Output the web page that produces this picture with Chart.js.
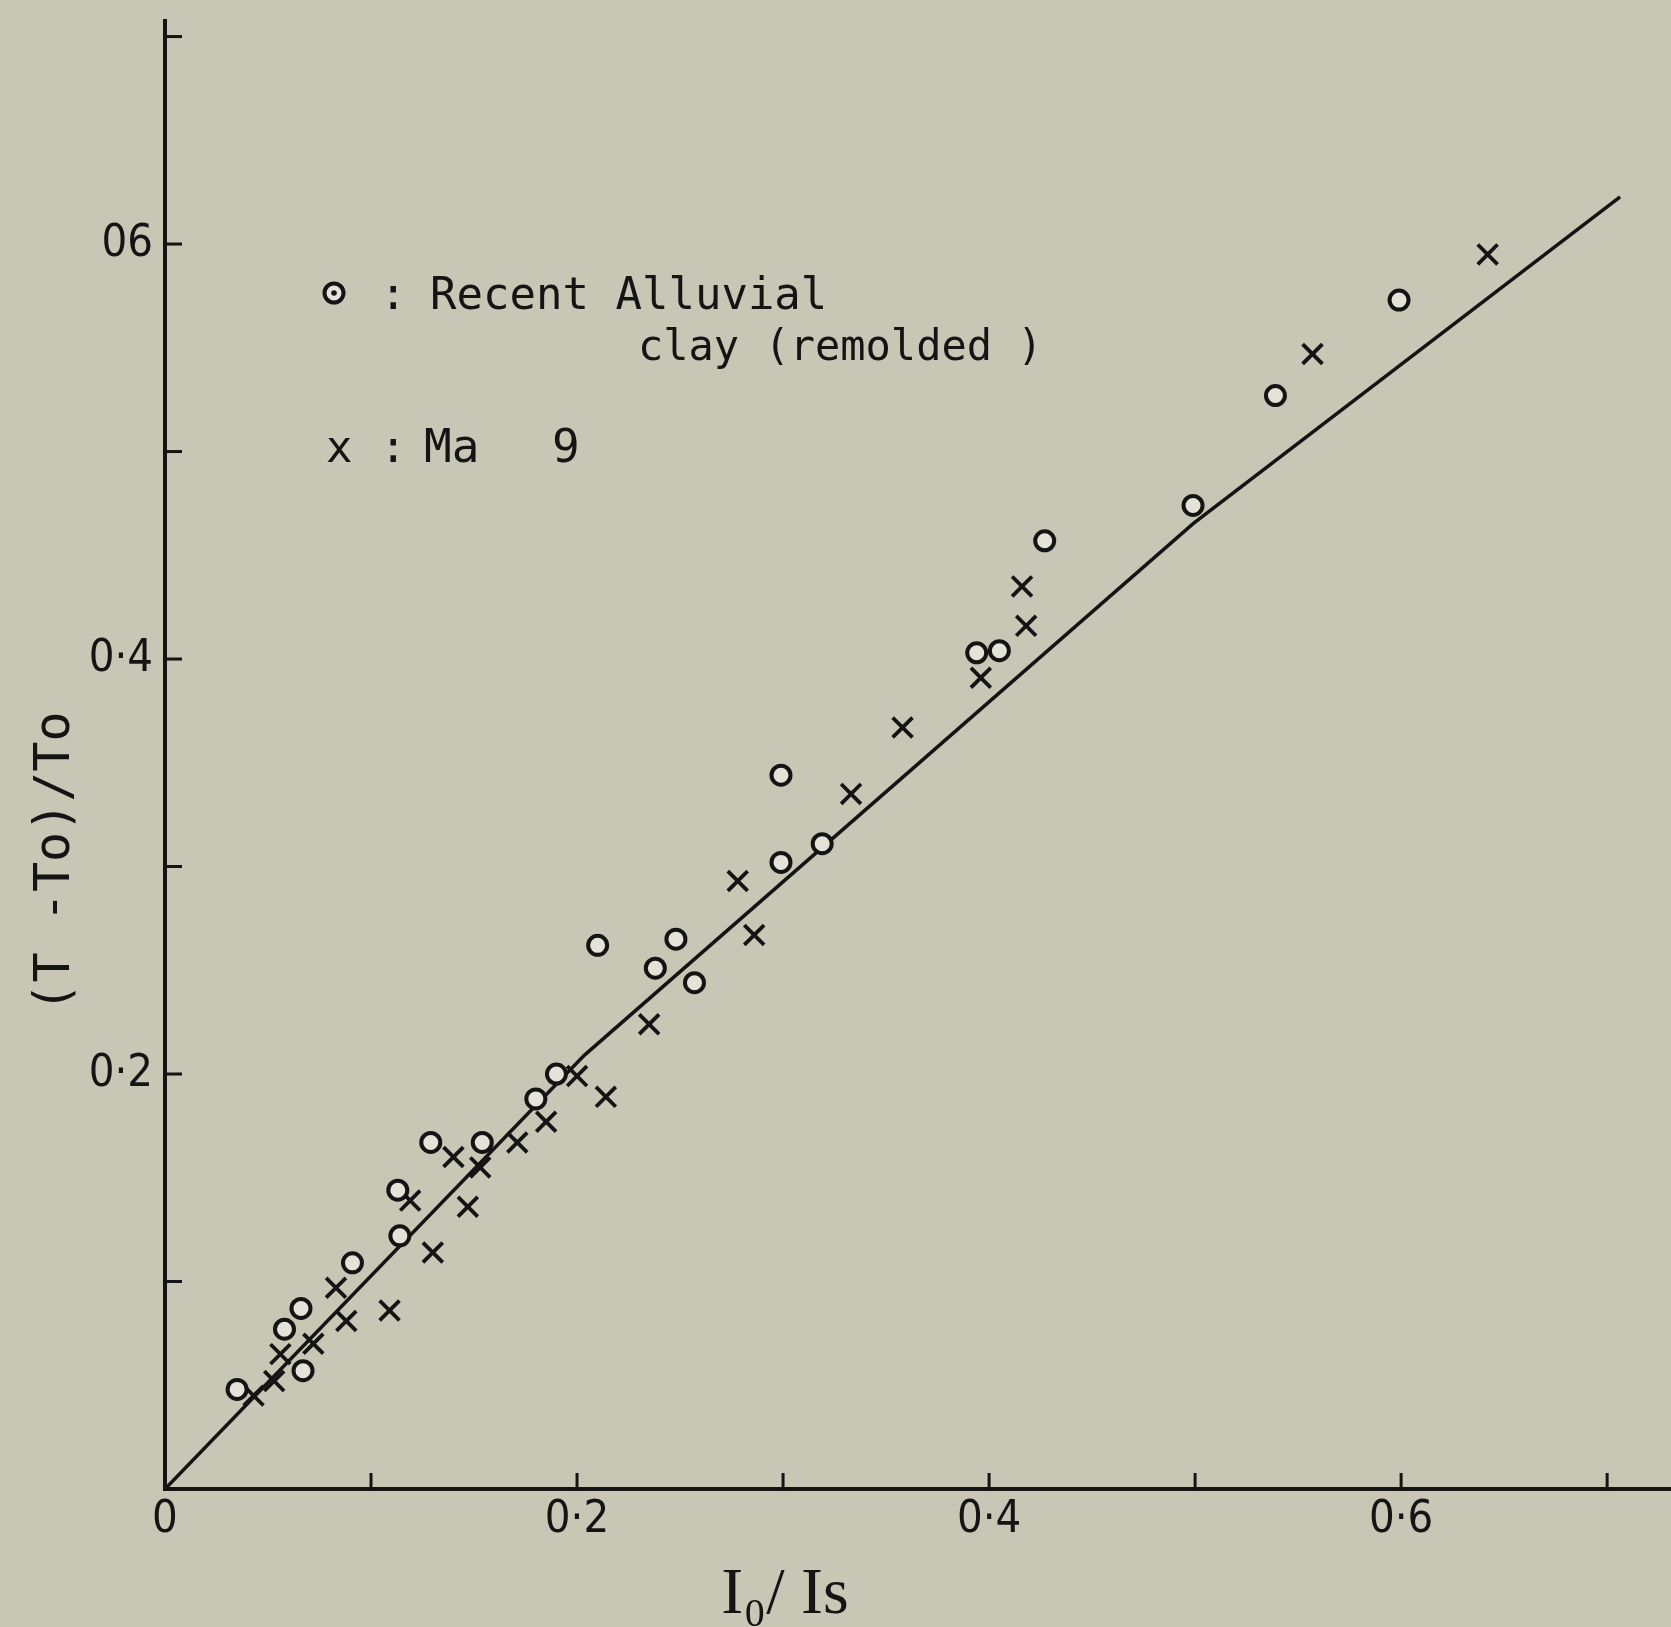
<!DOCTYPE html>
<html>
<head>
<meta charset="utf-8">
<script src="https://cdn.jsdelivr.net/npm/chart.js@4.4.1/dist/chart.umd.min.js"></script>
<style>
  html, body { margin: 0; padding: 0; background: #c8c6b4; }
  #wrap { width: 1671px; height: 1627px; }
</style>
</head>
<body>
<div id="wrap"><canvas id="c" width="1671" height="1627"></canvas></div>
<script>
// ---- data ----
const circleX = [0.035, 0.067, 0.058, 0.066, 0.091, 0.114, 0.113, 0.129, 0.154, 0.180, 0.190,
                 0.210, 0.248, 0.238, 0.257, 0.299, 0.319, 0.299, 0.394, 0.405, 0.427, 0.499, 0.539, 0.599];
const circleY = [0.048, 0.057, 0.077, 0.087, 0.109, 0.122, 0.144, 0.167, 0.167, 0.188, 0.200,
                 0.262, 0.265, 0.251, 0.244, 0.302, 0.311, 0.344, 0.403, 0.404, 0.457, 0.474, 0.527, 0.573];
const crossX = [0.043, 0.053, 0.056, 0.072, 0.088, 0.083, 0.109, 0.130, 0.119, 0.147, 0.140, 0.153, 0.171,
                0.185, 0.200, 0.214, 0.235, 0.286, 0.278, 0.333, 0.358, 0.396, 0.418, 0.416, 0.557, 0.642];
const crossY = [0.045, 0.052, 0.065, 0.070, 0.081, 0.097, 0.086, 0.114, 0.139, 0.136, 0.160, 0.155, 0.167,
                0.177, 0.199, 0.189, 0.224, 0.267, 0.293, 0.335, 0.367, 0.391, 0.416, 0.435, 0.547, 0.595];
const lineX = [0, 0.2035, 0.4992, 0.7063];
const lineY = [0, 0.2090, 0.4654, 0.6227];

const xTickValues = [0, 0.1, 0.2, 0.3, 0.4, 0.5, 0.6, 0.7];
const xTickLabels = ["0", "", "0·2", "", "0·4", "", "0·6", ""];
const yTickValues = [0, 0.1, 0.2, 0.3, 0.4, 0.5, 0.6, 0.7];
const yTickLabels = ["", "", "0·2", "", "0·4", "", "06", ""];

const xTitle = "I₀/ Is";
const yTitle = "(T -To)/To";
const legend1a = "Recent Alluvial";
const legend1b = "clay (remolded )";
const legend2 = "Ma";
const legend2b = "9";

// ---- build ----
const zip = (xs, ys) => xs.map((x, i) => ({ x: x, y: ys[i] }));
const INK = '#141414';
const BG = '#c8c6b4';
const tickFont = { family: "'Liberation Sans Narrow', 'DejaVu Sans Condensed', 'Liberation Sans', sans-serif", size: 45 };

const decor = {
  id: 'decor',
  beforeDraw(chart) {
    const ctx = chart.ctx;
    ctx.save();
    ctx.fillStyle = BG;
    ctx.fillRect(0, 0, chart.width, chart.height);
    ctx.restore();
  },
  beforeDatasetsDraw(chart) {
    const ctx = chart.ctx;
    const xs = chart.scales.x, ys = chart.scales.y;
    const a = chart.chartArea;
    ctx.save();
    ctx.strokeStyle = INK;
    ctx.lineWidth = 3;
    ctx.lineCap = 'butt';
    yTickValues.forEach(v => {
      if (v === 0) return;
      const p = ys.getPixelForValue(v);
      ctx.beginPath(); ctx.moveTo(a.left, p); ctx.lineTo(a.left + 17, p); ctx.stroke();
    });
    xTickValues.forEach(v => {
      if (v === 0) return;
      const p = xs.getPixelForValue(v);
      ctx.beginPath(); ctx.moveTo(p, a.bottom); ctx.lineTo(p, a.bottom - 16); ctx.stroke();
    });
    ctx.restore();
  },
  afterDraw(chart) {
    const ctx = chart.ctx;
    ctx.save();
    ctx.fillStyle = INK;
    // legend
    const lf = "44px 'DejaVu Sans Mono', monospace";
    ctx.font = lf;
    ctx.textBaseline = 'alphabetic';
    ctx.textAlign = 'left';
    // circle marker
    ctx.beginPath(); ctx.arc(334, 293, 9.5, 0, Math.PI * 2);
    ctx.fillStyle = '#e4e3d8'; ctx.fill();
    ctx.lineWidth = 4; ctx.strokeStyle = INK; ctx.stroke();
    ctx.beginPath(); ctx.arc(334, 293, 2.8, 0, Math.PI * 2); ctx.fillStyle = INK; ctx.fill();
    ctx.fillText(":", 380, 309);
    ctx.fillText(legend1a, 430, 309);
    ctx.font = "42px 'DejaVu Sans Mono', monospace";
    ctx.fillText(legend1b, 638, 360);
    ctx.font = lf;
    ctx.fillText("x", 326, 462);
    ctx.fillText(":", 380, 462);
    ctx.font = "46px 'DejaVu Sans Mono', monospace";
    ctx.fillText(legend2, 424, 462);
    ctx.fillText(legend2b, 552, 462);
    // y title
    ctx.save();
    ctx.translate(56, 862);
    ctx.rotate(-Math.PI / 2);
    ctx.font = "50px 'DejaVu Sans Mono', monospace";
    ctx.textAlign = 'center';
    ctx.textBaseline = 'middle';
    ctx.fillText(yTitle, 0, 0);
    ctx.restore();
    // x title
    ctx.font = "66px 'Liberation Serif', 'DejaVu Serif', serif";
    ctx.textAlign = 'center';
    ctx.textBaseline = 'alphabetic';
    ctx.fillText(xTitle, 785, 1613);
    ctx.restore();
  }
};

new Chart(document.getElementById('c'), {
  type: 'scatter',
  data: {
    datasets: [
      { label: 'fit', data: zip(lineX, lineY), showLine: true, pointRadius: 0, borderColor: INK,
        borderWidth: 3.5, fill: false, tension: 0, order: 3 },
      { label: 'Recent Alluvial clay (remolded)', data: zip(circleX, circleY), pointStyle: 'circle',
        pointRadius: 9.5, borderWidth: 4, borderColor: INK, backgroundColor: '#e4e3d8', order: 1 },
      { label: 'Ma 9', data: zip(crossX, crossY), pointStyle: 'crossRot',
        pointRadius: 14, borderWidth: 3.8, borderColor: INK, backgroundColor: INK, order: 2 }
    ]
  },
  options: {
    responsive: false,
    animation: false,
    devicePixelRatio: 1,
    layout: { autoPadding: false, padding: { top: 21, right: 0, bottom: 0, left: 0 } },
    plugins: { legend: { display: false }, tooltip: { enabled: false } },
    scales: {
      x: {
        type: 'linear', min: 0, max: 0.731,
        afterBuildTicks: s => { s.ticks = xTickValues.map(v => ({ value: v })); },
        afterFit: s => { s.height = 138; s.paddingLeft = 0; s.paddingRight = 0; },
        grid: { display: false, drawTicks: false },
        border: { display: true, color: INK, width: 4 },
        ticks: { color: INK, font: tickFont, padding: 4, maxRotation: 0, autoSkip: false,
                 callback: (v, i) => xTickLabels[xTickValues.indexOf(Math.round(v * 10) / 10)] }
      },
      y: {
        type: 'linear', min: 0, max: 0.7075,
        afterBuildTicks: s => { s.ticks = yTickValues.map(v => ({ value: v })); },
        afterFit: s => { s.width = 165; s.paddingTop = 0; s.paddingBottom = 0; },
        grid: { display: false, drawTicks: false },
        border: { display: true, color: INK, width: 4 },
        ticks: { color: INK, font: tickFont, padding: 12, autoSkip: false,
                 callback: (v, i) => yTickLabels[yTickValues.indexOf(Math.round(v * 10) / 10)] }
      }
    }
  },
  plugins: [decor]
});
</script>
</body>
</html>
